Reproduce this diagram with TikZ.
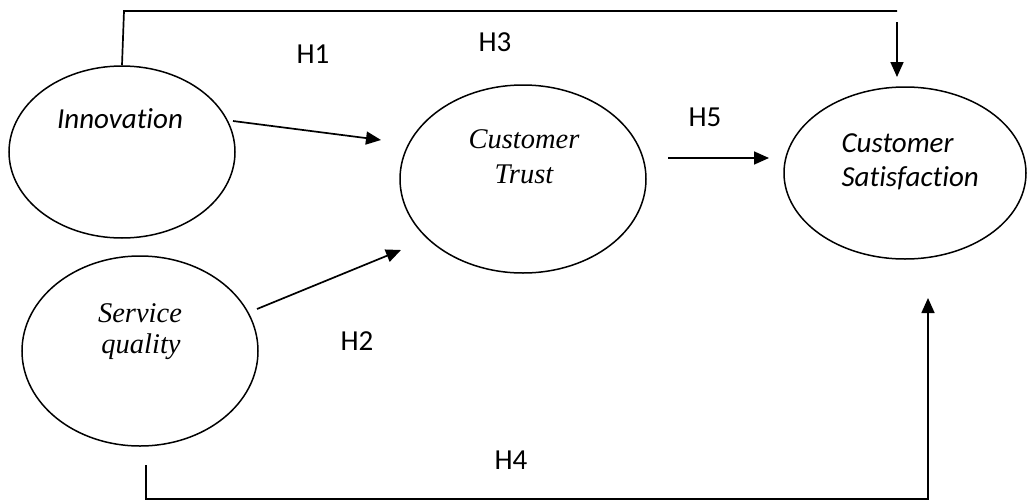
\documentclass[tikz,border=0pt]{standalone}
\usepackage{fontspec}
\setmainfont{Carlito}[Ligatures={NoCommon}]
\newfontfamily\serifit{Liberation Serif}[ItalicFont=* Italic]
\usetikzlibrary{shapes.geometric,arrows.meta}
\begin{document}
\begin{tikzpicture}[x=1pt,y=-1pt,
  construct/.style={draw,ellipse,line width=1.5pt,inner sep=0pt},
  link/.style={line width=1.7pt,-{Triangle[length=15pt,width=13pt]}},
  plain/.style={line width=1.7pt},
  hyp/.style={font=\fontsize{29}{33}\selectfont,anchor=base},
  cal/.style={font=\fontsize{29}{33}\selectfont\itshape,anchor=base},
  tms/.style={font=\fontsize{28.5}{32}\selectfont\serifit\itshape,anchor=base}]
\useasboundingbox (0,0) rectangle (1029,501);
% constructs
\node[construct,minimum width=226pt,minimum height=172pt] (inn) at (122,152) {};
\node[construct,minimum width=236pt,minimum height=190pt] (sq) at (140,351) {};
\node[construct,minimum width=246pt,minimum height=188pt] (ct) at (523,179) {};
\node[construct,minimum width=242pt,minimum height=172pt] (cs) at (905,173) {};
% texts
\node[cal] (innt) at (120,128) {Innovation};
\node[tms] (sqt1) at (140,322) {Service};
\node[tms] (sqt2) at (141,353) {quality};
\node[tms] (ctt1) at (524,148) {Customer};
\node[tms] (ctt2) at (524,183) {Trust};
\node[cal,anchor=base west] (cst1) at (838,152) {Customer};
\node[cal,anchor=base west] (cst2) at (838,186) {Satisfaction};
% hypothesis labels
\node[hyp] (h1) at (313,63) {H1};
\node[hyp] (h3) at (495,51) {H3};
\node[hyp] (h5) at (705,126) {H5};
\node[hyp] (h2) at (357,350) {H2};
\node[hyp] (h4) at (511,469) {H4};
% connector end points
\coordinate (a1s) at (233,121);
\coordinate (a1e) at (381,140);
\coordinate (a2s) at (257,309);
\coordinate (a2e) at (401,250);
\coordinate (a5s) at (668,158);
\coordinate (a5e) at (769,158);
\coordinate (top1) at (124,11);
\coordinate (top2) at (897,11);
\coordinate (a3s) at (897,22);
\coordinate (a3e) at (897,77);
\coordinate (bot0) at (146,465);
\coordinate (bot1) at (146,499);
\coordinate (bot2) at (928,499);
\coordinate (a4e) at (928,298);
% connectors
\draw[link] (a1s) -- (a1e);
\draw[link] (a2s) -- (a2e);
\draw[link] (a5s) -- (a5e);
\draw[plain] (inn.north) -- (top1) -- (top2);
\draw[link] (a3s) -- (a3e);
\draw[link] (bot0) -- (bot1) -- (bot2) -- (a4e);
\end{tikzpicture}
\end{document}
